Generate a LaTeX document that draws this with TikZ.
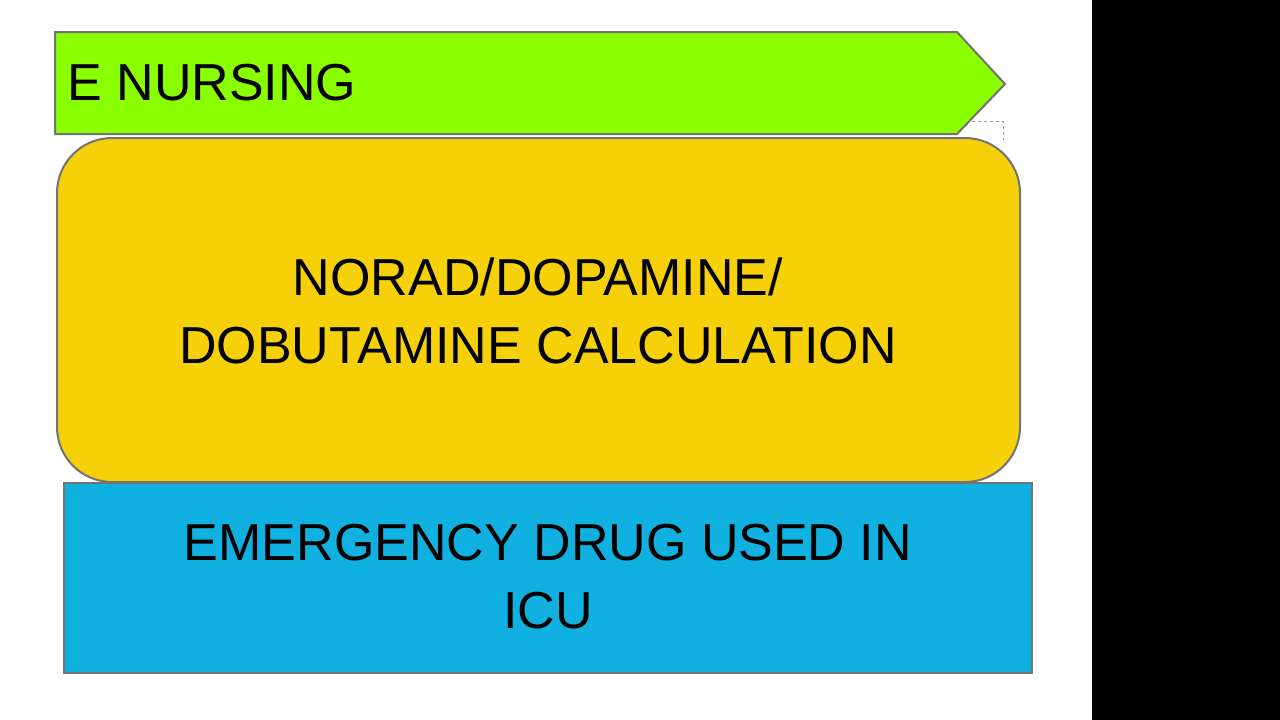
\documentclass[tikz,border=0pt]{standalone}
\usepackage{fontspec}
\setmainfont{Liberation Sans}
\begin{document}
\begin{tikzpicture}[x=1pt,y=-1pt,
  shapeline/.style={draw=black!55,line width=2pt},
  lbl/.style={font=\fontsize{52}{68}\selectfont,text=black,align=center}]
\useasboundingbox (0,0) rectangle (1280,720);
\fill[white] (0,0) rectangle (1092,720);
\fill[black] (1092,0) rectangle (1280,720);
\draw[black!40,dashed,line width=0.8pt] (960,121) -- (1003,121) -- (1003,140);
\draw[shapeline,fill=green!55!lime!70!yellow] (55,32) -- (957,32) -- (1005,84) -- (957,134) -- (55,134) -- cycle;
\node[lbl,anchor=west] (t1) at (64,83) {E NURSING};
\draw[shapeline,fill={rgb,255:red,246;green,209;blue,10},rounded corners=55pt] (57,138) rectangle (1020,482);
\node[lbl] (t2) at (538,311) {NORAD/DOPAMINE/\\DOBUTAMINE CALCULATION};
\draw[shapeline,fill={rgb,255:red,16;green,176;blue,224}] (64,483) rectangle (1032,673);
\node[lbl] (t3) at (548,577) {EMERGENCY DRUG USED IN\\ICU};
\end{tikzpicture}
\end{document}
